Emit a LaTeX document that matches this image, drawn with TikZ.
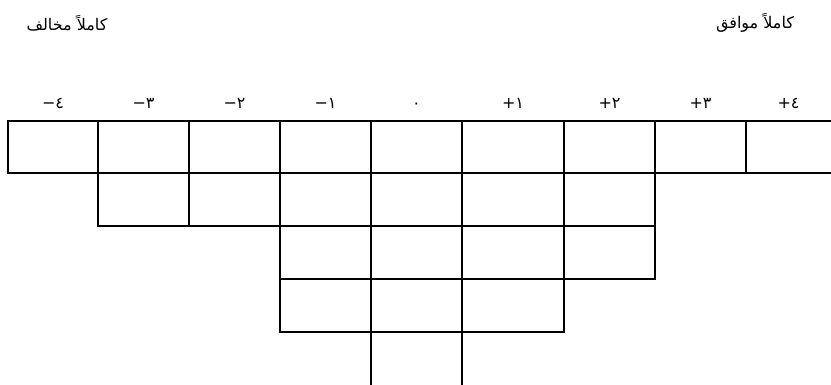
\documentclass[tikz,border=0pt]{standalone}
\usepackage{fontspec}
\setmainfont{DejaVu Sans}
\newfontfamily\arabicfont[Script=Arabic]{DejaVu Sans}
\newfontfamily\numfont{DejaVu Sans}
\TeXXeTstate=1
\usetikzlibrary{positioning}
\def\colx{{8,98,189,280,371,462,564,655,746,836}}
\tikzset{
  likert/cell/.style={draw, line width=2pt, inner sep=0pt, outer sep=0pt},
  likert/num/.style={font=\numfont\fontsize{16}{18}\selectfont, inner sep=1pt, anchor=base},
  likert/title/.style={font=\arabicfont\fontsize{16}{18}\selectfont, inner sep=1pt}
}

\begin{document}
\begin{tikzpicture}[x=1pt,y=-1pt]
  \clip (0,0) rectangle (831,384);

  % end point titles
  \node[likert/title] (disagree) at (67,23) {\beginR كاملاً مخالف\endR};
  \node[likert/title] (agree) at (755,23) {\beginR كاملاً موافق\endR};

  % column labels
  \foreach \c/\lab in {0/−٤, 1/−٣, 2/−٢, 3/−١, 4/٠, 5/+١, 6/+٢, 7/+٣, 8/+٤} {
    \pgfmathsetmacro\xl{\colx[\c]}
    \pgfmathsetmacro\xr{min(\colx[\c+1],831)}
    \node[likert/num] (lab\c) at ({(\xl+\xr)/2},108) {\beginL\lab\endL};
  }

  % rows of cells
  \foreach \row/\top/\bot/\first/\last in {1/121/173/0/8, 2/173/226/1/6, 3/226/279/3/6, 4/279/332/3/5, 5/332/392/4/4} {
    \foreach \c in {\first,...,\last} {
      \pgfmathsetmacro\xl{\colx[\c]}
      \pgfmathsetmacro\xr{\colx[\c+1]}
      \node[likert/cell, minimum width={(\xr-\xl)*1pt}, minimum height={(\bot-\top)*1pt}]
        (r\row c\c) at ({(\xl+\xr)/2},{(\top+\bot)/2}) {};
    }
  }
\end{tikzpicture}
\end{document}
